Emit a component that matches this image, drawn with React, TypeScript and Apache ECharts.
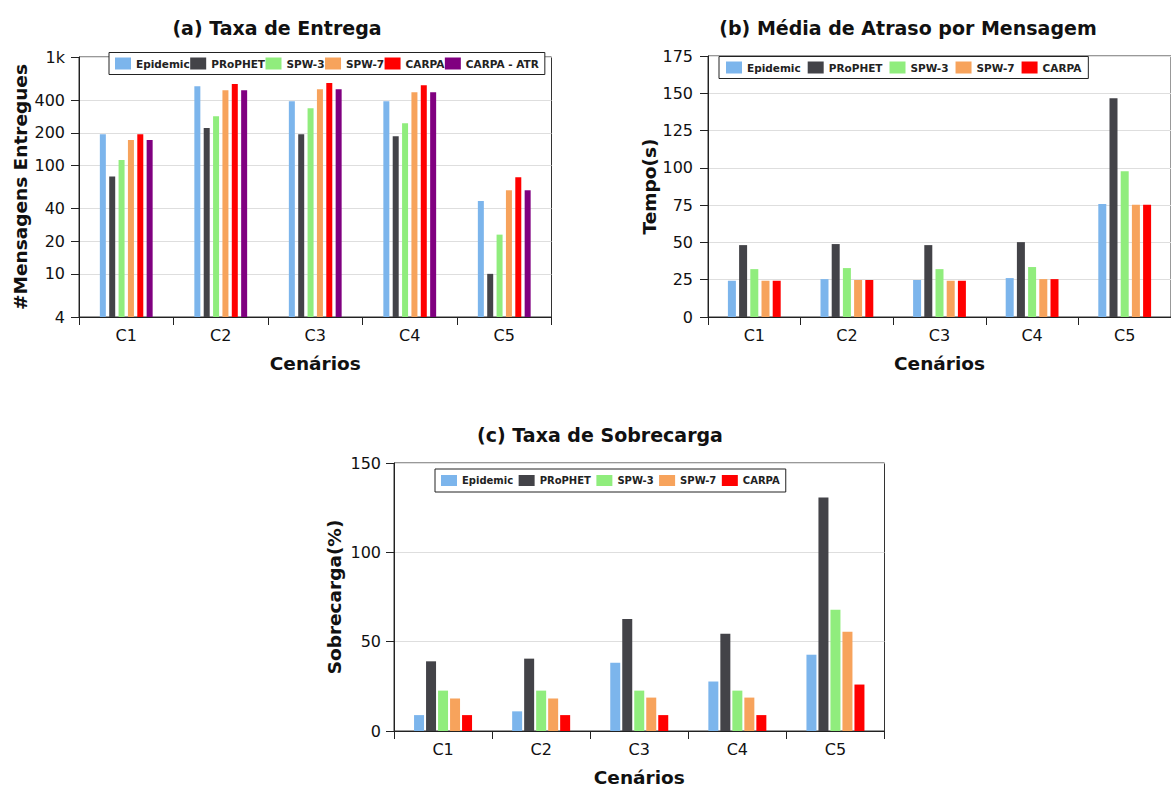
import React, { useEffect, useRef } from 'react';
import * as echarts from 'echarts';

const FONT = 'DejaVu Sans';

const categories = ['C1', 'C2', 'C3', 'C4', 'C5'];
const seriesNames = ['Epidemic', 'PRoPHET', 'SPW-3', 'SPW-7', 'CARPA', 'CARPA - ATR'];
const seriesColors = ['#7cb5ec', '#434348', '#90ed7d', '#f7a35c', '#ff0000', '#800080'];

// (a) Taxa de Entrega — messages delivered (log scale)
const deliveredEpidemic = [194, 537, 391, 391, 47];
const deliveredProphet = [79, 221, 194, 186, 10];
const deliveredSpw3 = [112, 284, 337, 245, 23];
const deliveredSpw7 = [172, 493, 504, 473, 59];
const deliveredCarpa = [194, 565, 577, 548, 78];
const deliveredCarpaAtr = [172, 493, 504, 473, 59];
const deliveryTicks = [4, 10, 20, 40, 100, 200, 400, 1000];
const deliveryTickLabels = ['4', '10', '20', '40', '100', '200', '400', '1k'];

// (b) Média de Atraso por Mensagem — seconds
const delayEpidemic = [24.3, 25.4, 24.8, 26.1, 75.7];
const delayProphet = [48.2, 48.9, 48.2, 50.2, 146.7];
const delaySpw3 = [32.1, 32.8, 32.1, 33.5, 97.8];
const delaySpw7 = [24.3, 24.8, 24.3, 25.4, 75.2];
const delayCarpa = [24.3, 24.8, 24.3, 25.4, 75.2];

// (c) Taxa de Sobrecarga — percent
const overheadEpidemic = [8.9, 11.0, 38.2, 27.7, 42.7];
const overheadProphet = [39.0, 40.5, 62.7, 54.4, 130.7];
const overheadSpw3 = [22.6, 22.6, 22.6, 22.6, 67.8];
const overheadSpw7 = [18.2, 18.2, 18.7, 18.7, 55.5];
const overheadCarpa = [8.9, 8.9, 8.9, 8.9, 26.0];

const titles = ['(a) Taxa de Entrega', '(b) Média de Atraso por Mensagem', '(c) Taxa de Sobrecarga'];
const yNames = ['#Mensagens Entregues', 'Tempo(s)', 'Sobrecarga(%)'];
const xName = 'Cenários';

const log10 = (v: number) => Math.log10(v);

export default function App() {
  const ref = useRef<HTMLDivElement>(null);

  useEffect(() => {
    if (!ref.current) return;
    const chart = echarts.init(ref.current, undefined, { renderer: 'svg' });

    const axisColor = '#222';
    const textColor = '#111';
    const gridLine = { lineStyle: { color: '#dedede', width: 1 } };

    const xAxisBase = (gridIndex: number) => ({
      type: 'category',
      gridIndex,
      data: categories,
      axisLine: { show: true, lineStyle: { color: axisColor, width: 1 } },
      axisTick: { show: true, length: 8, lineStyle: { color: axisColor } },
      axisLabel: { fontSize: 16, color: textColor, margin: 10, fontFamily: FONT },
      splitLine: { show: false },
      name: xName,
      nameLocation: 'middle',
      nameGap: 37,
      nameTextStyle: { fontSize: 18.5, fontWeight: 'bold', color: textColor, fontFamily: FONT },
    });

    const yAxisBase = (gridIndex: number, nameGap: number, margin: number) => ({
      type: 'value',
      gridIndex,
      name: yNames[gridIndex],
      nameLocation: 'middle',
      nameGap,
      nameRotate: 90,
      nameTextStyle: { fontSize: 18.5, fontWeight: 'bold', color: textColor, fontFamily: FONT },
      axisLine: { show: true, lineStyle: { color: axisColor, width: 1 } },
      axisTick: { show: true, length: 8, lineStyle: { color: axisColor } },
      axisLabel: { fontSize: 16, color: textColor, margin, fontFamily: FONT },
      splitLine: { show: true, ...gridLine },
    });

    const deliveryLogTicks = deliveryTicks.map(log10);

    const legendBase = (
      names: string[],
      left: number,
      top: number,
      fontSize: number,
      itemGap: number,
      padding: number[],
      itemHeight: number
    ) => ({
      data: names,
      left,
      top,
      orient: 'horizontal',
      icon: 'rect',
      itemWidth: 16,
      itemHeight,
      itemGap,
      padding,
      borderColor: '#222',
      borderWidth: 1,
      backgroundColor: '#fff',
      selectedMode: false,
      textStyle: { fontSize, fontWeight: 'bold', color: '#222', fontFamily: FONT },
    });

    const bar = (
      name: string,
      idx: number,
      data: number[],
      axisIndex: number,
      barWidth: number,
      barGap: string
    ) => ({
      type: 'bar',
      name,
      xAxisIndex: axisIndex,
      yAxisIndex: axisIndex,
      data,
      barWidth,
      barGap,
      itemStyle: { color: seriesColors[idx] },
      clip: true,
    });

    const aData = [deliveredEpidemic, deliveredProphet, deliveredSpw3, deliveredSpw7, deliveredCarpa, deliveredCarpaAtr];
    const bData = [delayEpidemic, delayProphet, delaySpw3, delaySpw7, delayCarpa];
    const cData = [overheadEpidemic, overheadProphet, overheadSpw3, overheadSpw7, overheadCarpa];

    const series: any[] = [];
    aData.forEach((d, i) => series.push(bar(seriesNames[i], i, d.map(log10), 0, 6, '56%')));
    bData.forEach((d, i) => series.push(bar(seriesNames[i], i, d, 1, 8, '40%')));
    cData.forEach((d, i) => series.push(bar(seriesNames[i], i, d, 2, 10, '20%')));

    const gridStyle = { show: true, borderColor: '#333', borderWidth: 1, backgroundColor: 'transparent' };

    const titleStyle = { fontSize: 19, fontWeight: 'bold', color: textColor, fontFamily: FONT };

    chart.setOption({
      animation: false,
      textStyle: { fontFamily: FONT },
      title: [
        { text: titles[0], left: 277, top: 18, textAlign: 'center', padding: 0, textStyle: titleStyle },
        { text: titles[1], left: 908, top: 18, textAlign: 'center', padding: 0, textStyle: titleStyle },
        { text: titles[2], left: 600, top: 425, textAlign: 'center', padding: 0, textStyle: titleStyle },
      ],
      legend: [
        legendBase(seriesNames, 109, 52.5, 10.5, 0.5, [5, 6, 5, 6], 12),
        legendBase(seriesNames.slice(0, 5), 719, 56.5, 10.5, 7, [5, 7, 5, 7], 12),
        legendBase(seriesNames.slice(0, 5), 435, 469, 10, 5.5, [6, 6, 6, 6], 11),
      ],
      grid: [
        { left: 79, top: 57, width: 472.5, height: 260, ...gridStyle },
        { left: 708, top: 56, width: 471.5, height: 261, ...gridStyle },
        { left: 394, top: 463, width: 490.5, height: 270, ...gridStyle },
      ],
      xAxis: [xAxisBase(0), xAxisBase(1), xAxisBase(2)],
      yAxis: [
        {
          ...yAxisBase(0, 49, 14),
          min: log10(4),
          max: 3,
          axisLabel: {
            fontSize: 16,
            color: textColor,
            margin: 14,
            fontFamily: FONT,
            customValues: deliveryLogTicks,
            formatter: (v: number) => {
              const i = deliveryLogTicks.findIndex((t) => Math.abs(t - v) < 1e-6);
              return i >= 0 ? deliveryTickLabels[i] : '';
            },
          },
          axisTick: { show: true, length: 8, lineStyle: { color: axisColor }, customValues: deliveryLogTicks },
        },
        { ...yAxisBase(1, 48, 15), min: 0, max: 175, interval: 25 },
        { ...yAxisBase(2, 50, 13), min: 0, max: 150, interval: 50 },
      ],
      series,
    });

    return () => chart.dispose();
  }, []);

  return (
    <div
      ref={ref}
      style={{ position: 'fixed', left: 0, top: 0, width: 1171, height: 788, background: '#fff' }}
    />
  );
}
